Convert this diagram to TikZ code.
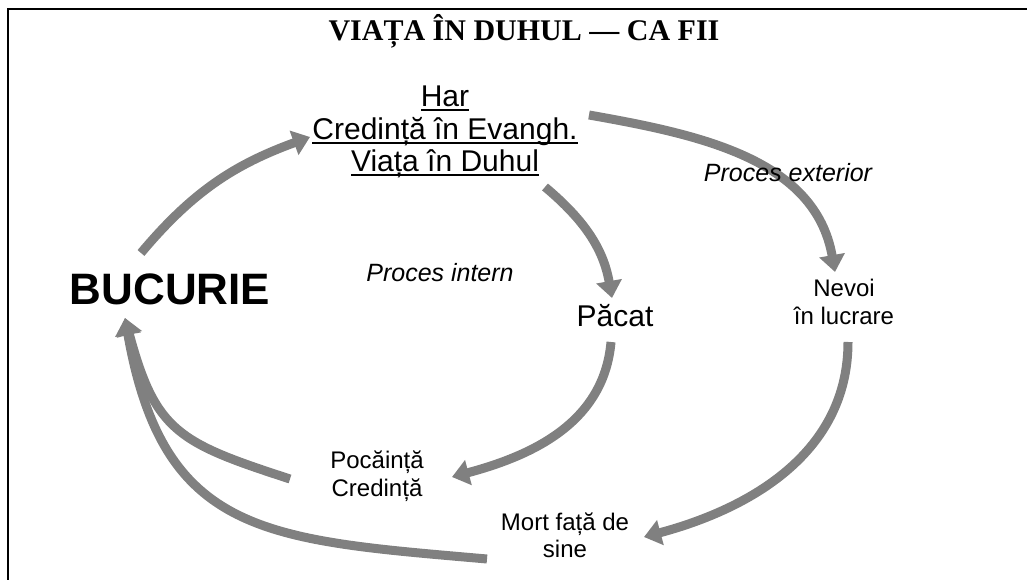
\documentclass[tikz,border=0pt]{standalone}
\usepackage{fontspec}
\setmainfont{Liberation Serif}
\newfontfamily\arialfont{Liberation Sans}
\usetikzlibrary{arrows.meta}
\definecolor{arcgray}{HTML}{808080}
\newsavebox\hulbox
\newcommand{\hul}[1]{\sbox\hulbox{#1}\rlap{\rule[-4.5pt]{\wd\hulbox}{2.4pt}}\usebox\hulbox}
\tikzset{
  lbl/.style={font=\arialfont\fontsize{24}{28}\selectfont, inner sep=0pt, align=center, anchor=base},
  big/.style={font=\arialfont\fontsize{30}{32.5}\selectfont, inner sep=0pt, align=center, anchor=base},
  proc/.style={font=\arialfont\itshape\fontsize{25}{30}\selectfont, inner sep=0pt, anchor=base},
  flow/.style={draw=arcgray, line width=9pt, -{Triangle[length=17pt,width=25pt]}},
}
\begin{document}
\begin{tikzpicture}[x=1pt,y=1pt]
\useasboundingbox (0,0) rectangle (1027,580);
\clip (0,0) rectangle (1027,580);
\draw[line width=2.3pt] (8,-20) |- (1050,571);

\node[font=\bfseries\fontsize{30}{36}\selectfont, inner sep=0pt, anchor=base] (title) at (524,539) {VIAȚA ÎN DUHUL — CA FII};
\node[big] (har) at (445,408) {\hul{Har}\\\hul{Credință în Evangh.}\\\hul{Viața în Duhul}};
\node[font=\arialfont\bfseries\fontsize{44}{50}\selectfont, inner sep=0pt, anchor=base] (bucurie) at (170,275) {BUCURIE};
\node[big] (pacat) at (615,253) {Păcat};
\node[lbl] (nevoi) at (844,255) {Nevoi\\în lucrare};
\node[lbl] (pocainta) at (377,83) {Pocăință\\Credință};
\node[lbl, font=\arialfont\fontsize{24}{27}\selectfont] (mort) at (565,22) {Mort față de\\sine};

\draw[flow] ([shift={(-29,52)}]bucurie.base) to[out=50,in=200] ([shift={(-135,35)}]har.base);
\draw[flow] ([shift={(144,57)}]har.base) to[out=-10,in=100] ([shift={(-9,53)}]nevoi.base);
\draw[flow] ([shift={(100,-15)}]har.base) to[out=-40,in=100] ([shift={(-3,29)}]pacat.base);
\draw[flow] ([shift={(-4,-15)}]pacat.base) to[out=-95,in=15] ([shift={(75,20)}]pocainta.base);
\draw[flow] ([shift={(4,-17)}]nevoi.base) to[out=-90,in=15] ([shift={(79,21)}]mort.base);
\draw[flow] ([shift={(-87,18)}]pocainta.base) to[out=162,in=-75,looseness=1.3] ([shift={(-45,-13)}]bucurie.base);
\draw[flow] ([shift={(-78,-1)}]mort.base) to[out=175,in=-80,looseness=1.3] ([shift={(-45,-13)}]bucurie.base);

\node[proc] (intern) at (440,298) {Proces intern};
\node[proc] (exterior) at (788,398) {Proces exterior};
\end{tikzpicture}
\end{document}
